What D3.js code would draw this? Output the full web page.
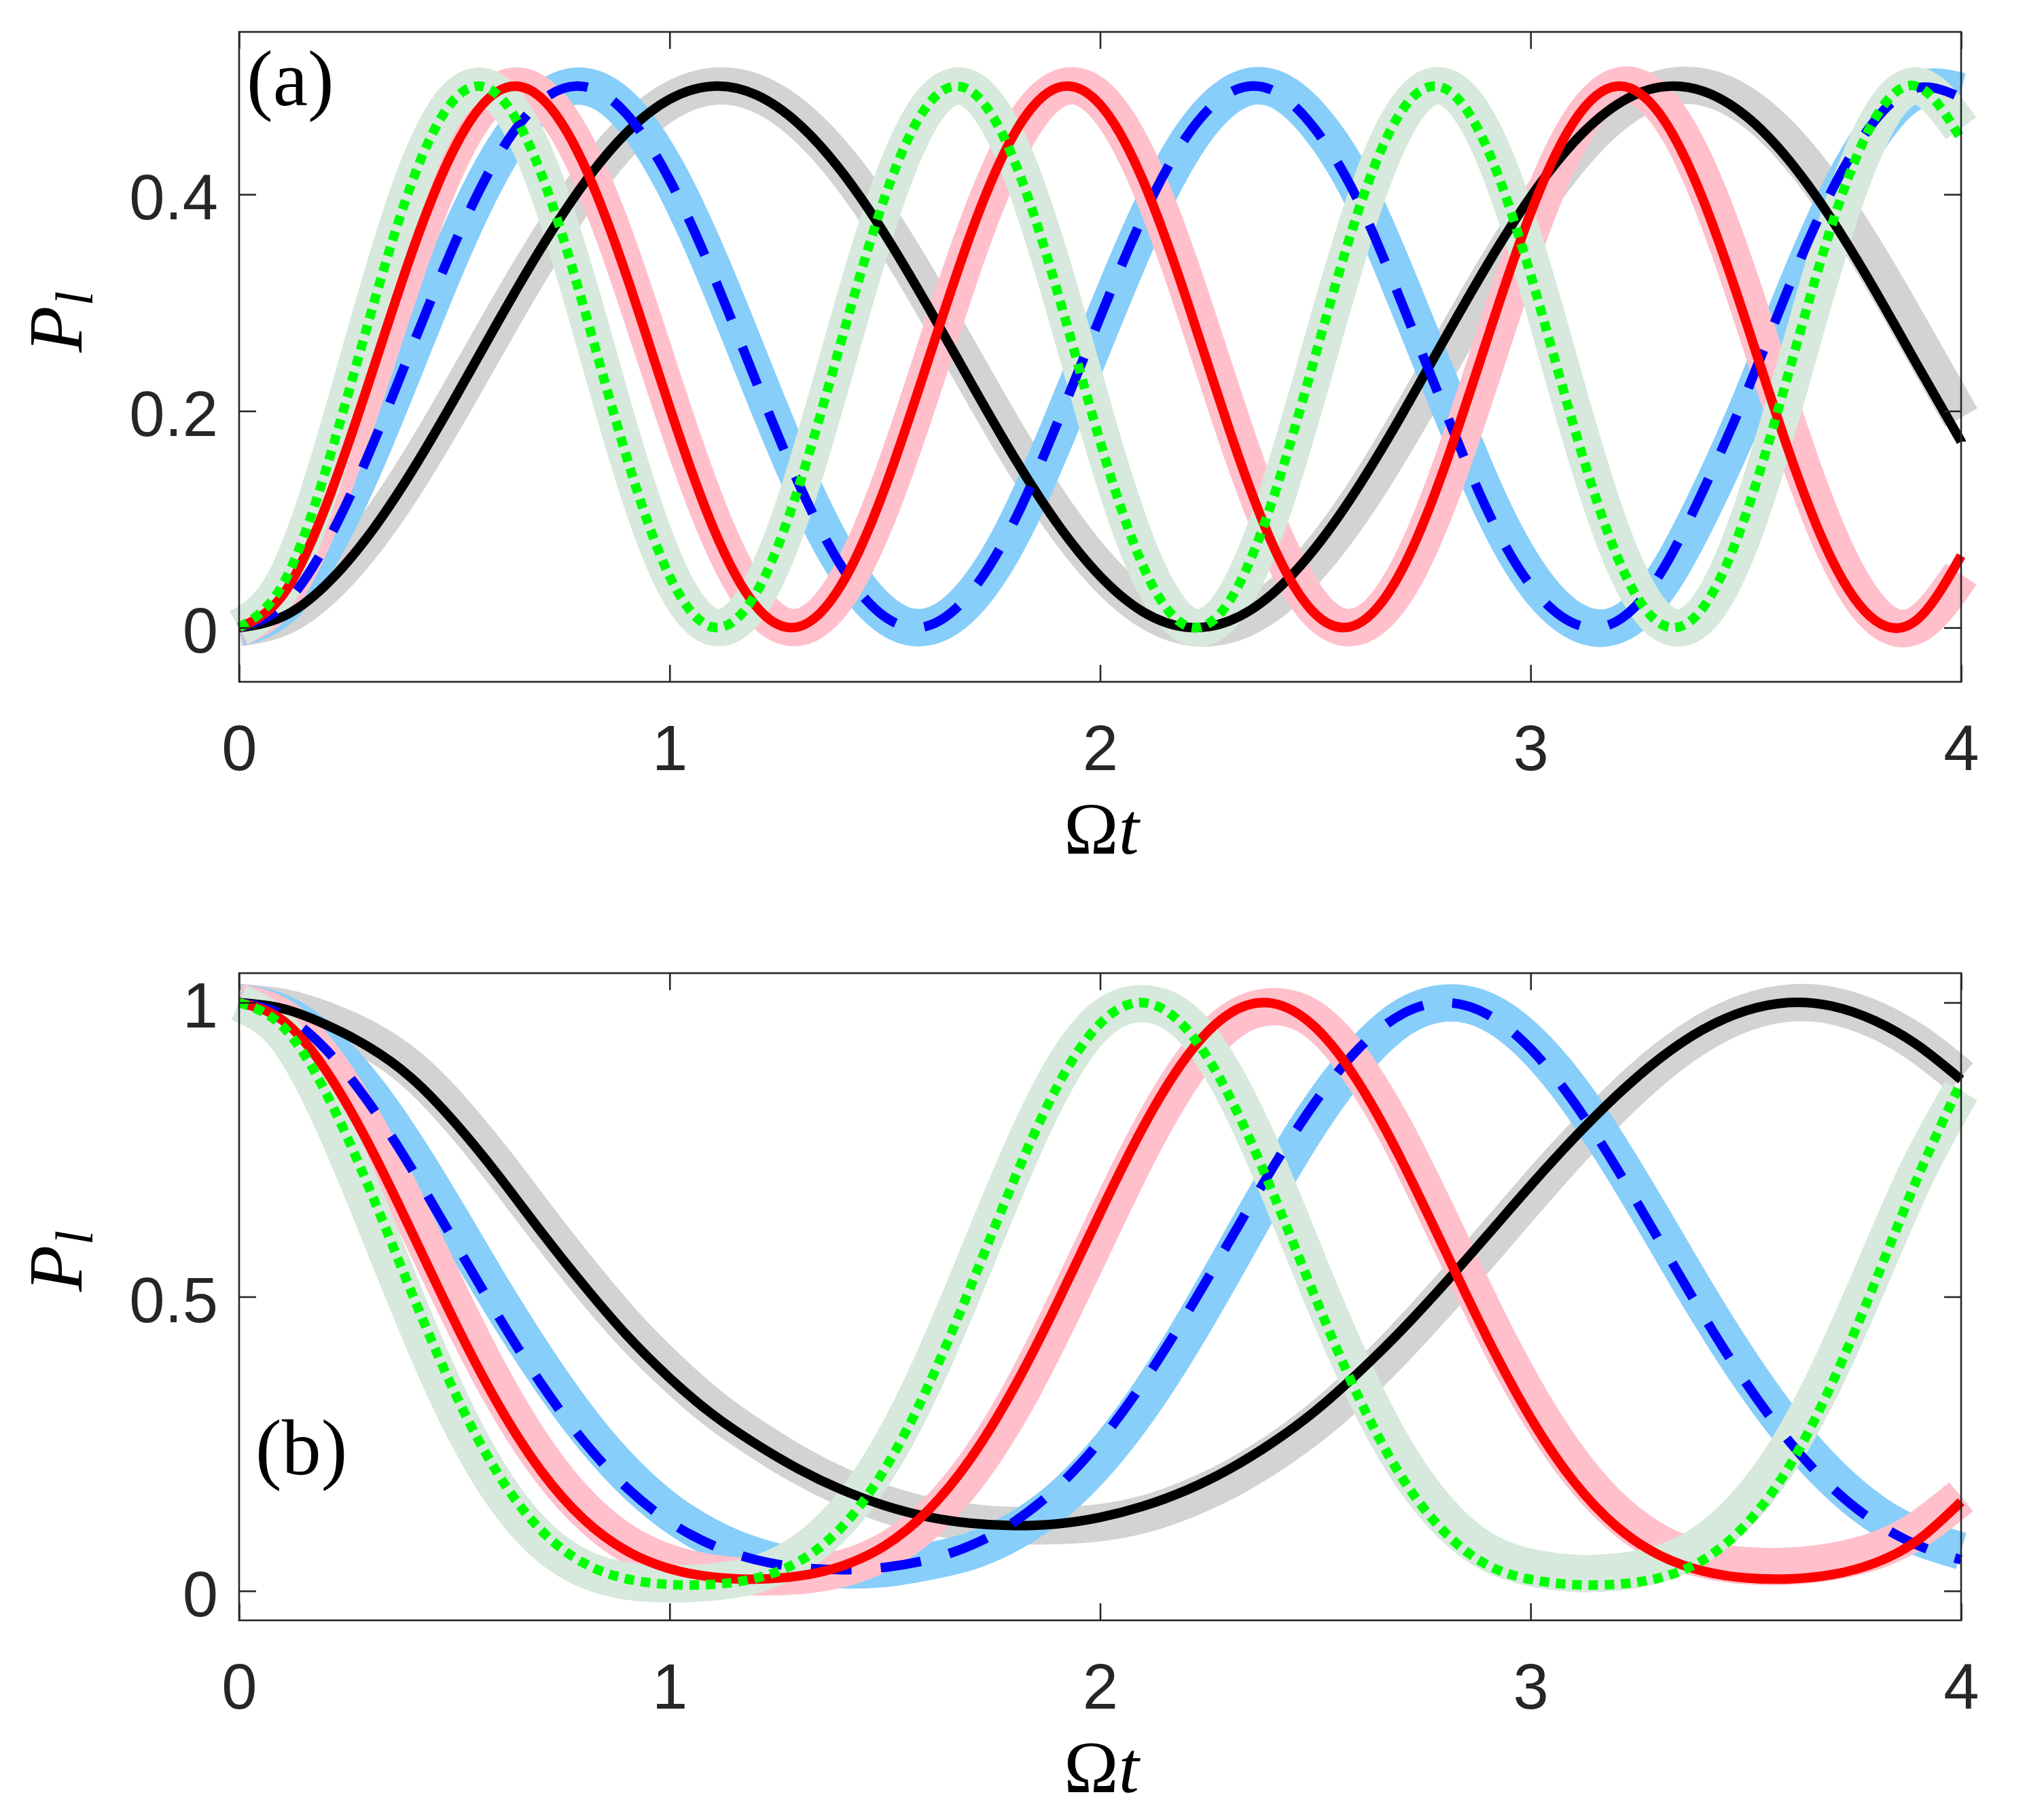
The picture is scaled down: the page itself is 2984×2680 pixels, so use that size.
<!DOCTYPE html>
<html>
<head>
<meta charset="utf-8">
<script src="https://cdn.jsdelivr.net/npm/d3@7"></script>
<style>
  html, body { margin: 0; padding: 0; background: #ffffff; }
  svg { display: block; }
</style>
</head>
<body>
<svg id="chart" width="2984" height="2680"></svg>
<script>
// ---------------- data ----------------
const tValues = [0,0.1,0.2,0.3,0.4,0.5,0.6,0.7,0.8,0.9,1.0,1.1,1.2,1.3,1.4,1.5,1.6,1.7,1.8,1.9,2.0,
                 2.1,2.2,2.3,2.4,2.5,2.6,2.7,2.8,2.9,3.0,3.1,3.2,3.3,3.4,3.5,3.6,3.7,3.8,3.9,4.0];

const xTicks = [0,1,2,3,4];
const xTickLabels = ["0","1","2","3","4"];
const aYTicks = [0,0.2,0.4];
const aYTickLabels = ["0","0.2","0.4"];
const bYTicks = [0,0.5,1];
const bYTickLabels = ["0","0.5","1"];

// panel (a): thin curves
const aBlack = [0,0.0099,0.0389,0.0847,0.1436,0.2110,0.2815,0.3494,0.4095,0.4569,0.4878,0.4999,0.4921,0.4650,0.4209,0.3632,0.2965,0.2261,0.1576,0.0964,0.0475,0.0146,0.0005,0.0062,0.0312,0.0737,0.1301,0.1961,0.2664,0.3354,0.3976,0.4480,0.4827,0.4990,0.4954,0.4724,0.4316,0.3765,0.3113,0.2412,0.1718];
const aBlue  = [0,0.0197,0.0758,0.1594,0.2573,0.3540,0.4344,0.4856,0.4996,0.4742,0.4134,0.3268,0.2281,0.1329,0.0561,0.0100,0.0017,0.0327,0.0979,0.1883,0.2864,0.3798,0.4529,0.4937,0.4962,0.4598,0.3937,0.3004,0.2016,0.1078,0.0390,0.0040,0.0059,0.0491,0.1260,0.2158,0.3145,0.4038,0.4683,0.4985,0.4894];
const aRed   = [0,0.0294,0.1107,0.2248,0.3448,0.4425,0.4949,0.4897,0.4282,0.3247,0.2036,0.0935,0.0202,0.0009,0.0403,0.1289,0.2461,0.3642,0.4554,0.4983,0.4828,0.4125,0.3040,0.1828,0.0774,0.0126,0.0037,0.0526,0.1481,0.2675,0.3828,0.4668,0.4999,0.4742,0.3957,0.2830,0.1625,0.0626,0.0068,0.0082,0.0665];
const aGreen = [0,0.0389,0.1436,0.2815,0.4095,0.4878,0.4921,0.4209,0.2965,0.1576,0.0475,0.0005,0.0312,0.1301,0.2664,0.3976,0.4827,0.4954,0.4316,0.3113,0.1718,0.0567,0.0018,0.0243,0.1171,0.2512,0.3850,0.4768,0.4979,0.4417,0.3258,0.1863,0.0667,0.0041,0.0182,0.1045,0.2361,0.3721,0.4700,0.4994,0.4511];
// panel (a): thick companion curves
const aGray       = [0,0.0097,0.0383,0.0834,0.1415,0.2081,0.2780,0.3456,0.4059,0.4539,0.4860,0.4997,0.4939,0.4689,0.4269,0.3710,0.3057,0.2360,0.1674,0.1052,0.0544,0.0187,0.0013,0.0032,0.0244,0.0633,0.1167,0.1807,0.2500,0.3194,0.3834,0.4369,0.4759,0.4972,0.4992,0.4818,0.4461,0.3952,0.3329,0.2640,0.1940];
const aLightBlue  = [0,0.0195,0.0751,0.1580,0.2553,0.3517,0.4324,0.4844,0.4998,0.4762,0.4172,0.3320,0.2341,0.1386,0.0605,0.0121,0.0008,0.0285,0.0908,0.1791,0.2765,0.3708,0.4465,0.4911,0.4983,0.4666,0.4043,0.3136,0.2153,0.1197,0.0470,0.0068,0.0025,0.0393,0.1112,0.1985,0.2971,0.3892,0.4590,0.4964,0.4952];
const aPink       = [0,0.0291,0.1097,0.2229,0.3425,0.4405,0.4941,0.4909,0.4317,0.3301,0.2097,0.0989,0.0231,0.0004,0.0355,0.1207,0.2361,0.3548,0.4490,0.4969,0.4874,0.4225,0.3174,0.1966,0.0882,0.0175,0.0014,0.0422,0.1321,0.2494,0.3669,0.4572,0.4993,0.4833,0.4130,0.3047,0.1836,0.0779,0.0123,0.0032,0.0495];
const aLightGreen = [0,0.0387,0.1428,0.2803,0.4082,0.4872,0.4927,0.4230,0.2998,0.1611,0.0499,0.0008,0.0288,0.1254,0.2606,0.3926,0.4803,0.4967,0.4367,0.3190,0.1797,0.0622,0.0029,0.0202,0.1086,0.2408,0.3759,0.4721,0.4994,0.4494,0.3377,0.1988,0.0757,0.0066,0.0129,0.0927,0.2212,0.3587,0.4625,0.4999,0.4610];

// panel (b): thin curves
const bBlack = [1.000,0.990,0.963,0.925,0.872,0.797,0.708,0.612,0.520,0.435,0.362,0.300,0.250,0.207,0.172,0.145,0.126,0.115,0.111,0.114,0.125,0.144,0.171,0.207,0.252,0.306,0.371,0.443,0.522,0.605,0.689,0.769,0.842,0.905,0.954,0.986,1.000,0.994,0.969,0.927,0.869];
const bBlue  = [1,0.9798,0.9214,0.8311,0.7183,0.5940,0.4694,0.3540,0.2549,0.1758,0.1173,0.0775,0.0530,0.0401,0.0361,0.0401,0.0530,0.0775,0.1173,0.1758,0.2549,0.3540,0.4694,0.5940,0.7183,0.8311,0.9214,0.9798,1.0000,0.9798,0.9214,0.8311,0.7183,0.5940,0.4694,0.3540,0.2549,0.1758,0.1173,0.0775,0.0530];
const bRed   = [1,0.9705,0.8865,0.7608,0.6116,0.4587,0.3193,0.2054,0.1222,0.0682,0.0378,0.0236,0.0200,0.0254,0.0423,0.0769,0.1364,0.2258,0.3454,0.4887,0.6424,0.7885,0.9071,0.9810,0.9988,0.9577,0.8642,0.7322,0.5807,0.4292,0.2942,0.1863,0.1092,0.0605,0.0338,0.0221,0.0204,0.0277,0.0476,0.0866,0.1518];
const bGreen = [1,0.9602,0.8490,0.6884,0.5085,0.3385,0.2005,0.1042,0.0476,0.0205,0.0109,0.0112,0.0215,0.0499,0.1085,0.2072,0.3474,0.5185,0.6982,0.8568,0.9645,0.9999,0.9557,0.8410,0.6786,0.4984,0.3298,0.1940,0.1001,0.0439,0.0196,0.0107,0.0114,0.0224,0.0523,0.1129,0.2109,0.3526,0.5245,0.7045,0.8644];
// panel (b): thick companion curves
const bGray       = [1.0,0.992,0.970,0.937,0.887,0.813,0.724,0.628,0.535,0.449,0.375,0.311,0.259,0.214,0.177,0.148,0.128,0.116,0.111,0.111,0.116,0.130,0.155,0.189,0.233,0.286,0.350,0.424,0.504,0.588,0.673,0.755,0.830,0.896,0.948,0.983,0.999,0.995,0.971,0.930,0.873];
const bLightBlue  = [1.0,0.982,0.930,0.848,0.742,0.622,0.499,0.384,0.282,0.198,0.134,0.089,0.059,0.042,0.036,0.038,0.050,0.068,0.101,0.152,0.225,0.320,0.434,0.561,0.690,0.809,0.906,0.973,0.999,0.985,0.931,0.845,0.735,0.613,0.489,0.374,0.274,0.193,0.132,0.092,0.068];
const bPink       = [1.0,0.975,0.901,0.785,0.641,0.488,0.346,0.228,0.140,0.081,0.047,0.030,0.024,0.026,0.038,0.067,0.120,0.203,0.317,0.458,0.611,0.760,0.884,0.966,0.993,0.969,0.887,0.763,0.614,0.462,0.325,0.214,0.133,0.081,0.054,0.043,0.042,0.050,0.068,0.104,0.160];
const bLightGreen = [1.0,0.950,0.825,0.655,0.474,0.308,0.177,0.088,0.038,0.017,0.012,0.015,0.028,0.062,0.126,0.229,0.371,0.542,0.718,0.871,0.970,0.998,0.966,0.863,0.707,0.528,0.360,0.222,0.125,0.066,0.040,0.030,0.032,0.046,0.081,0.146,0.246,0.385,0.550,0.715,0.850];

// ---------------- styles ----------------
const thickStyles = [
  {color:"#d3d3d3"}, {color:"#87cefa"}, {color:"#ffc0cb"}, {color:"#d6e9dc"}
];
const thinStyles = [
  {color:"#000000", dash:null},
  {color:"#0000ff", dash:"60,43"},
  {color:"#ff0000", dash:null},
  {color:"#00ff00", dash:"14,10"}
];
const THICK_W = 55, THIN_W = 14;
const AXIS_COLOR = "#262626";
const TICK_FONT = "'Liberation Sans', Arial, Helvetica, sans-serif";
const SERIF_FONT = "'Liberation Serif', 'Times New Roman', Times, serif";

const panels = [
  { top: 47, bottom: 1004, yDomain: [-0.05, 0.55], yTicks: aYTicks, yLabels: aYTickLabels,
    thick: [aGray, aLightBlue, aPink, aLightGreen], thin: [aBlack, aBlue, aRed, aGreen],
    tag: "(a)", tagX: 363, tagY: 155, xLabelY: 1257, yLabelX: 120, yLabelY: 519 },
  { top: 1433, bottom: 2386, yDomain: [-0.05, 1.05], yTicks: bYTicks, yLabels: bYTickLabels,
    thick: [bGray, bLightBlue, bPink, bLightGreen], thin: [bBlack, bBlue, bRed, bGreen],
    tag: "(b)", tagX: 376, tagY: 2171, xLabelY: 2639, yLabelX: 120, yLabelY: 1902 }
];

const LEFT = 352, RIGHT = 2887;
const svg = d3.select("#chart");
svg.append("rect").attr("width", 2984).attr("height", 2680).attr("fill", "#ffffff");

const x = d3.scaleLinear().domain([0, 4]).range([LEFT, RIGHT]);

panels.forEach(p => {
  const y = d3.scaleLinear().domain(p.yDomain).range([p.bottom, p.top]);
  const g = svg.append("g");

  const line = d3.line()
    .x((d, i) => x(tValues[i]))
    .y(d => y(d))
    .curve(d3.curveNatural);

  // thick companion curves (drawn first)
  p.thick.forEach((series, k) => {
    g.append("path").datum(series)
      .attr("d", line)
      .attr("fill", "none")
      .attr("stroke", thickStyles[k].color)
      .attr("stroke-width", THICK_W)
      .attr("stroke-linecap", "butt")
      .attr("stroke-linejoin", "round");
  });
  // thin curves
  p.thin.forEach((series, k) => {
    const path = g.append("path").datum(series)
      .attr("d", line)
      .attr("fill", "none")
      .attr("stroke", thinStyles[k].color)
      .attr("stroke-width", THIN_W)
      .attr("stroke-linecap", "butt")
      .attr("stroke-linejoin", "round");
    if (thinStyles[k].dash) path.attr("stroke-dasharray", thinStyles[k].dash);
  });

  // axes
  const axisG = svg.append("g");
  const bottomAxis = d3.axisBottom(x).tickValues(xTicks)
    .tickFormat((d, i) => xTickLabels[i]).tickSizeInner(-25).tickSizeOuter(0).tickPadding(63);
  const topAxis = d3.axisTop(x).tickValues(xTicks).tickFormat("").tickSizeInner(-25).tickSizeOuter(0);
  const leftAxis = d3.axisLeft(y).tickValues(p.yTicks)
    .tickFormat((d, i) => p.yLabels[i]).tickSizeInner(-25).tickSizeOuter(0).tickPadding(31);
  const rightAxis = d3.axisRight(y).tickValues(p.yTicks).tickFormat("").tickSizeInner(-25).tickSizeOuter(0);

  const gb = axisG.append("g").attr("transform", `translate(0,${p.bottom})`).call(bottomAxis);
  const gt = axisG.append("g").attr("transform", `translate(0,${p.top})`).call(topAxis);
  const gl = axisG.append("g").attr("transform", `translate(${LEFT},0)`).call(leftAxis);
  const gr = axisG.append("g").attr("transform", `translate(${RIGHT},0)`).call(rightAxis);

  [gb, gt, gl, gr].forEach(a => {
    a.select(".domain").remove();
    a.selectAll(".tick line").attr("stroke", AXIS_COLOR).attr("stroke-width", 2.6);
    a.selectAll(".tick text")
      .attr("fill", AXIS_COLOR)
      .style("font-family", TICK_FONT)
      .style("font-size", "94px");
  });
  gl.selectAll(".tick text").attr("dy", "0.39em");
  gb.selectAll(".tick text").attr("dy", "0.71em");

  axisG.append("rect")
    .attr("x", LEFT).attr("y", p.top)
    .attr("width", RIGHT - LEFT).attr("height", p.bottom - p.top)
    .attr("fill", "none").attr("stroke", AXIS_COLOR).attr("stroke-width", 2.6);

  // x label: Ωt
  const xl = svg.append("text")
    .attr("x", (LEFT + RIGHT) / 2 + 2).attr("y", p.xLabelY)
    .attr("text-anchor", "middle")
    .style("font-family", SERIF_FONT).style("font-size", "108px").attr("fill", "#000");
  xl.append("tspan").text("Ω");
  xl.append("tspan").style("font-style", "italic").text("t");

  // y label: P_l
  const yl = svg.append("text")
    .attr("x", p.yLabelX).attr("y", p.yLabelY)
    .attr("transform", `rotate(-90,${p.yLabelX},${p.yLabelY})`)
    .style("font-family", SERIF_FONT).style("font-size", "112px").attr("fill", "#000");
  yl.append("tspan").style("font-style", "italic").text("P");
  yl.append("tspan").style("font-style", "italic").style("font-size", "78px").attr("dy", 16).text("l");

  // panel tag
  svg.append("text")
    .attr("x", p.tagX).attr("y", p.tagY)
    .style("font-family", SERIF_FONT).style("font-size", "116px").attr("fill", "#000")
    .text(p.tag);
});
</script>
</body>
</html>
